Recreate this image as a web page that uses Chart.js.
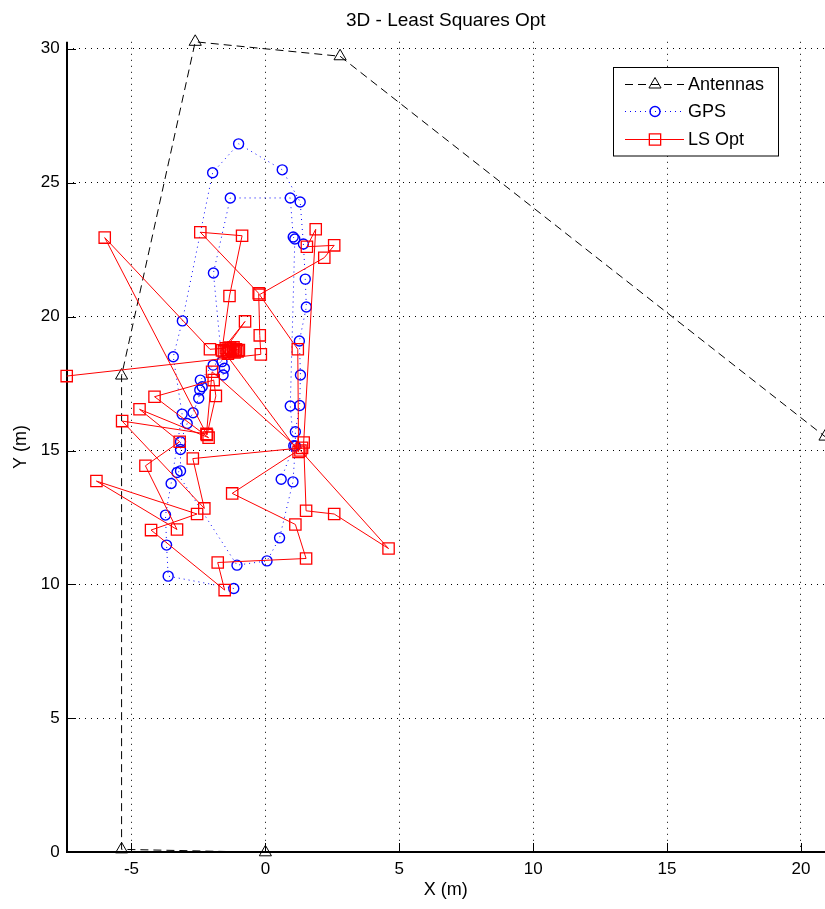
<!DOCTYPE html>
<html>
<head>
<meta charset="utf-8">
<style>
  html, body { margin: 0; padding: 0; background: #ffffff; }
  #wrap { width: 825px; height: 909px; position: relative; }
</style>
<script src="https://cdn.jsdelivr.net/npm/chart.js@4.4.0/dist/chart.umd.min.js"></script>
</head>
<body>
<div id="wrap"><canvas id="c" width="825" height="909"></canvas></div>
<script>
// ---- Chart data -------------------------------------------------------
const chartTitle = '3D - Least Squares Opt';
const xTitle = 'X (m)';
const yTitle = 'Y (m)';
const seriesNames = ['Antennas', 'GPS', 'LS Opt'];

const xTicks = [-5, 0, 5, 10, 15, 20];
const yTicks = [0, 5, 10, 15, 20, 25, 30];
const xRange = [-7.42, 20.9];
const yRange = [0, 30.26];

// antenna positions (m)
const antennaX = [0, -5.37, -5.37, -2.62, 2.79, 20.9];
const antennaY = [0, 0.11, 17.8, 30.26, 29.72, 15.52];

// GPS track (m)
const gpsX = [-1.18, -3.63, -3.69, -3.73, -3.52, -3.11, -3.44, -3.10, -1.97, -1.00,
              0.63, 1.30, 1.42, 1.49, 1.53, 1.27, 1.31, 1.28, 1.12, 1.12,
              1.03, 0.53, 0.06, -1.06, -3.30, -3.17, -3.17, -3.17, -2.92, -2.70,
              -2.49, -2.45, -2.36, -2.43, -1.95, -1.62, -1.53, -1.58, -1.94, -1.31,
              0.93, 1.04, 1.10, 0.93, 1.06, 0.59];
const gpsY = [9.85, 10.31, 11.47, 12.59, 13.77, 16.36, 18.50, 19.84, 25.37, 26.45,
              25.48, 24.28, 22.71, 21.40, 20.36, 19.09, 17.82, 16.68, 15.70, 15.17,
              13.83, 11.74, 10.88, 10.72, 14.18, 14.24, 15.04, 15.33, 16.01, 16.41,
              16.95, 17.26, 17.38, 17.63, 18.19, 18.32, 18.07, 17.82, 21.63, 24.43,
              24.43, 22.97, 22.90, 16.66, 15.18, 13.93];

// least-squares position estimates (m)
const lsX = [-7.42, -0.17, -0.21, -0.25, -2.43, -0.87, -1.34, -1.62, -0.76, -1.48,
             -2.07, -6.00, -2.18, -1.85, -1.93, -4.14, -2.12, -4.70, -3.20, -4.48,
             -3.30, -6.31, -2.55, -4.27, -1.52, -1.78, 1.52, 1.12, -1.24, 1.37,
             -2.71, -2.28, -5.35, -2.20, -1.99, 1.31, 4.60, 2.57, 1.52, 1.43,
             1.88, 1.55, 2.57, 2.20, -0.22, 1.21, 1.24, -1.55, -1.44, -1.36,
             -1.28, -1.22, -1.15, -1.10, -1.04, -0.99, -1.33, -1.19, -1.40];
const lsY = [17.78, 18.59, 19.30, 20.87, 23.15, 23.02, 20.77, 18.74, 19.82, 18.82,
             18.78, 22.95, 15.58, 17.04, 17.63, 17.01, 15.48, 16.54, 15.33, 14.43,
             12.05, 13.86, 12.63, 12.03, 9.79, 10.82, 10.97, 12.24, 13.40, 15.10,
             14.70, 12.84, 16.10, 15.62, 17.94, 15.00, 11.34, 12.63, 12.75, 15.30,
             23.26, 22.61, 22.66, 22.20, 20.82, 18.78, 14.95, 18.70, 18.76, 18.68,
             18.80, 18.72, 18.66, 18.78, 18.70, 18.75, 18.84, 18.85, 18.62];

// ---- Drawing ----------------------------------------------------------
const FONT = '"Liberation Sans", Arial, Helvetica, sans-serif';
const toPoints = (xs, ys) => xs.map((x, i) => ({ x: x, y: ys[i] }));

// solid axis lines on the left and bottom, with inward tick marks
const axesFrame = {
  id: 'axesFrame',
  beforeDatasetsDraw(chart) {
    const { ctx, chartArea: a, scales: { x, y } } = chart;
    const L = Math.round(a.left);
    const B = Math.round(a.bottom);
    ctx.save();
    ctx.setLineDash([]);
    ctx.strokeStyle = '#000';
    ctx.lineWidth = 2;
    ctx.beginPath();
    ctx.moveTo(L, a.top);
    ctx.lineTo(L, B);
    ctx.lineTo(a.right, B);
    ctx.stroke();
    ctx.lineWidth = 1;
    ctx.beginPath();
    xTicks.forEach(v => {
      const px = Math.round(x.getPixelForValue(v)) + 0.5;
      ctx.moveTo(px, B);
      ctx.lineTo(px, B - 9);
    });
    yTicks.forEach(v => {
      const py = Math.round(y.getPixelForValue(v)) + 0.5;
      ctx.moveTo(L, py);
      ctx.lineTo(L + 9, py);
    });
    ctx.stroke();
    ctx.restore();
  }
};

function drawMarker(ctx, style, cx, cy) {
  ctx.beginPath();
  if (style === 'triangle') {
    const r = 7;
    for (let k = 0; k < 3; k++) {
      const ang = k * 2 * Math.PI / 3;
      const px = cx + Math.sin(ang) * r, py = cy - Math.cos(ang) * r;
      if (k === 0) ctx.moveTo(px, py); else ctx.lineTo(px, py);
    }
    ctx.closePath();
  } else if (style === 'circle') {
    ctx.arc(cx, cy, 5, 0, Math.PI * 2);
  } else {
    const s = 8 * Math.SQRT1_2;
    ctx.rect(cx - s, cy - s, 2 * s, 2 * s);
  }
  ctx.stroke();
}

// boxed legend with line sample and marker for each series
const boxLegend = {
  id: 'boxLegend',
  afterDraw(chart) {
    const ctx = chart.ctx;
    const bx = 613.5, by = 67.5, bw = 165, bh = 88.5;
    ctx.save();
    ctx.fillStyle = '#fff';
    ctx.fillRect(bx, by, bw, bh);
    ctx.strokeStyle = '#000';
    ctx.lineWidth = 1;
    ctx.setLineDash([]);
    ctx.strokeRect(bx, by, bw, bh);
    const rows = [84.5, 111.5, 139.5];
    chart.data.datasets.forEach((ds, i) => {
      const yy = rows[i];
      ctx.strokeStyle = ds.borderColor;
      ctx.lineWidth = ds.borderWidth;
      ctx.setLineDash(ds.borderDash || []);
      ctx.beginPath();
      ctx.moveTo(625, yy);
      ctx.lineTo(684, yy);
      ctx.stroke();
      ctx.setLineDash([]);
      ctx.lineWidth = ds.pointBorderWidth;
      drawMarker(ctx, ds.pointStyle, 655, yy);
      ctx.fillStyle = '#000';
      ctx.font = '18px ' + FONT;
      ctx.textBaseline = 'middle';
      ctx.textAlign = 'left';
      ctx.fillText(ds.label, 688, yy + 1);
    });
    ctx.restore();
  }
};

new Chart(document.getElementById('c').getContext('2d'), {
  type: 'scatter',
  data: {
    datasets: [
      {
        label: seriesNames[0],
        data: toPoints(antennaX, antennaY),
        showLine: true,
        borderColor: '#000000',
        borderWidth: 1,
        borderDash: [8, 5],
        pointStyle: 'triangle',
        pointRadius: 7,
        pointBorderWidth: 1,
        pointBorderColor: '#000000',
        pointBackgroundColor: 'rgba(0,0,0,0)',
        clip: false,
        order: 2
      },
      {
        label: seriesNames[1],
        data: toPoints(gpsX, gpsY),
        showLine: true,
        borderColor: '#0000ff',
        borderWidth: 1,
        borderDash: [1, 4],
        pointStyle: 'circle',
        pointRadius: 5,
        pointBorderWidth: 1.4,
        pointBorderColor: '#0000ff',
        pointBackgroundColor: 'rgba(0,0,0,0)',
        clip: false,
        order: 1
      },
      {
        label: seriesNames[2],
        data: toPoints(lsX, lsY),
        showLine: true,
        borderColor: '#ff0000',
        borderWidth: 1,
        pointStyle: 'rect',
        pointRadius: 8,
        pointBorderWidth: 1.3,
        pointBorderColor: '#ff0000',
        pointBackgroundColor: 'rgba(0,0,0,0)',
        clip: false,
        order: 0
      }
    ]
  },
  options: {
    responsive: false,
    animation: false,
    devicePixelRatio: 1,
    layout: { padding: 0, autoPadding: false },
    plugins: {
      legend: { display: false },
      tooltip: { enabled: false },
      title: {
        display: true,
        text: chartTitle,
        fullSize: false,
        color: '#000',
        font: { family: FONT, size: 19, weight: 'normal' },
        padding: { top: 9, bottom: 10 }
      }
    },
    scales: {
      x: {
        type: 'linear',
        min: xRange[0],
        max: xRange[1],
        afterBuildTicks: s => { s.ticks = xTicks.map(v => ({ value: v })); },
        afterFit: s => { s.height = 56.7; s.paddingLeft = 0; s.paddingRight = 0; },
        grid: { color: '#000', lineWidth: 1, drawTicks: false },
        border: { display: false, dash: [1, 5] },
        ticks: {
          color: '#000',
          padding: 7,
          maxRotation: 0,
          font: { family: FONT, size: 17 },
          callback: v => String(v)
        },
        title: {
          display: true,
          text: xTitle,
          color: '#000',
          font: { family: FONT, size: 18 },
          padding: { top: 0, bottom: 8 }
        }
      },
      y: {
        type: 'linear',
        min: yRange[0],
        max: yRange[1],
        afterBuildTicks: s => { s.ticks = yTicks.map(v => ({ value: v })); },
        afterFit: s => { s.width = 66.7; s.paddingTop = 0; s.paddingBottom = 0; },
        grid: { color: '#000', lineWidth: 1, drawTicks: false },
        border: { display: false, dash: [1, 5] },
        ticks: {
          color: '#000',
          padding: 7,
          font: { family: FONT, size: 17 },
          callback: v => String(v)
        },
        title: {
          display: true,
          text: yTitle,
          color: '#000',
          font: { family: FONT, size: 18 },
          padding: { top: 10, bottom: 0 }
        }
      }
    }
  },
  plugins: [axesFrame, boxLegend]
});
</script>
</body>
</html>
